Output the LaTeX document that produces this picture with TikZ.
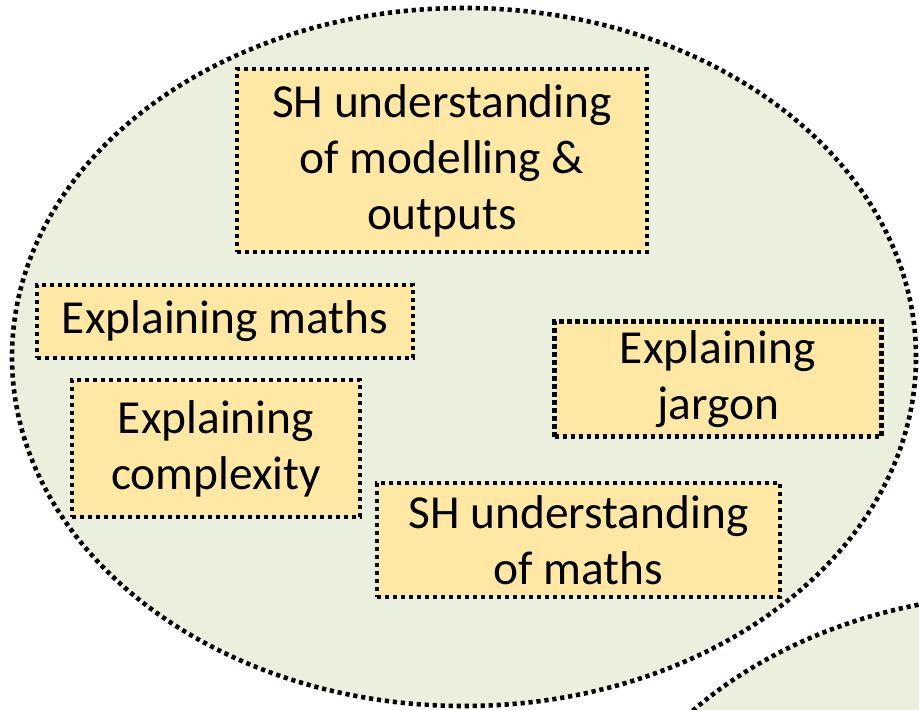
\documentclass[tikz,border=0pt]{standalone}
\usepackage{fontspec}
\setmainfont{Carlito}
\usepackage{tikz}
\usetikzlibrary{positioning}
\definecolor{paleolive}{HTML}{EBEFDD}
\definecolor{palegold}{HTML}{FFE7A4}

\begin{document}
\begin{tikzpicture}[x=0.5pt,y=-0.5pt,
    dotline/.style={line width=2.3pt,dash pattern=on 2.1pt off 1.9pt},
    textbox/.style={draw,dotline,fill=palegold,inner sep=0pt,align=center,
      font=\fontsize{23.7}{28}\selectfont}]
    \clip (0,0) rectangle (919,710);
    \fill[white] (0,0) rectangle (919,710);
    % the two groups
    \filldraw[dotline,fill=paleolive] (464,357) ellipse [x radius=226pt,y radius=174.5pt];
    \filldraw[dotline,fill=paleolive] (1030,943) ellipse [x radius=226pt,y radius=174.5pt];
    % the items
    \node[textbox,minimum width=205pt,minimum height=91.5pt] (modelling) at (442,160.5)
      {SH understanding\\of modelling \&\\outputs};
    \node[textbox,minimum width=188pt,minimum height=36.5pt] (maths) at (225,321.5)
      {Explaining maths};
    \node[textbox,minimum width=144pt,minimum height=68.5pt] (complexity) at (216,448.5)
      {Explaining\\complexity};
    \node[textbox,minimum width=163.5pt,minimum height=57.5pt] (jargon) at (718,379)
      {Explaining\\jargon};
    \node[textbox,minimum width=201.5pt,minimum height=57pt] (shmaths) at (578.5,540)
      {SH understanding\\of maths};
  \end{tikzpicture}
\end{document}
